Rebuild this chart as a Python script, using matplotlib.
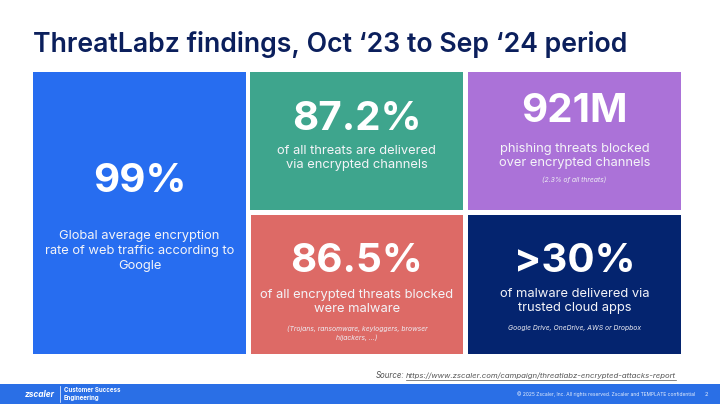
import matplotlib
matplotlib.use("Agg")
import matplotlib.pyplot as plt
from matplotlib.patches import Rectangle

plt.rcParams['font.family'] = ['Inter', 'DejaVu Sans']

title = "ThreatLabz findings, Oct ‘23 to Sep ‘24 period"
headlines = ["99%", "87.2%", "921M", "86.5%", ">30%"]
subtitles = [
    "Global average encryption\nrate of web traffic according to\nGoogle",
    "of all threats are delivered\nvia encrypted channels",
    "phishing threats blocked\nover encrypted channels",
    "of all encrypted threats blocked\nwere malware",
    "of malware delivered via\ntrusted cloud apps",
]
notes = ["", "", "(2.3% of all threats)",
         "(Trojans, ransomware, keyloggers, browser\nhijackers, ...)",
         "Google Drive, OneDrive, AWS or Dropbox"]
colors = ["#276DF0", "#3EA58D", "#AB72D8", "#DD6A66", "#04246F"]
boxes = [(33, 72, 213, 282), (250, 72, 213, 138), (468, 72, 213, 138),
         (251, 215, 212, 139), (468, 215, 213, 139)]
head_y = [182, 119, 112, 262, 262]
sub_y = [251, 158, 156, 302, 301]
note_y = [None, None, 180, 333, 328]

fig = plt.figure(figsize=(7.2, 4.04), dpi=100)
ax = fig.add_axes([0, 0, 1, 1])
ax.set_xlim(0, 720)
ax.set_ylim(404, 0)
ax.axis("off")

ax.text(33, 44, title, fontsize=19.2, fontweight="semibold", color="#0B1F5C", va="center", ha="left")

for (x, y, w, h), c, hd, sb, nt, hy, sy, ny in zip(boxes, colors, headlines, subtitles, notes, head_y, sub_y, note_y):
    ax.add_patch(Rectangle((x, y), w, h, fc=c, ec="none"))
    cx = x + w / 2
    ax.text(cx, hy, hd, fontsize=29, fontweight="bold", color="white", ha="center", va="center")
    ax.text(cx, sy, sb, fontsize=9.3, color="#F4F4F8", ha="center", va="center", linespacing=1.3)
    if nt:
        ax.text(cx, ny, nt, fontsize=4.9, style="italic", color="#EEEEF4", ha="center", va="center", linespacing=1.5)

ax.text(376, 376, "Source:", fontsize=5.7, style="italic", color="#555555", ha="left", va="center")
ax.text(406, 376, "https://www.zscaler.com/campaign/threatlabz-encrypted-attacks-report",
        fontsize=5.6, style="italic", color="#555555", ha="left", va="center")
ax.plot([406, 676], [380, 380], color="#555555", lw=0.5)

ax.add_patch(Rectangle((0, 384), 720, 20, fc="#2A6FE6", ec="none"))
ax.text(25, 394.5, "zscaler", fontsize=6, fontweight="bold", style="italic", color="white", ha="left", va="center")
ax.plot([59.5, 59.5], [386, 402], color="white", lw=0.5)
ax.text(64, 394, "Customer Success\nEngineering", fontsize=4.4, fontweight="bold", color="white", ha="left", va="center", linespacing=1.3)
ax.text(517, 394.5, "© 2025 Zscaler, Inc. All rights reserved. Zscaler and TEMPLATE confidential", fontsize=3.55,
        color="#E6EEFC", ha="left", va="center")
ax.text(706, 394, "2", fontsize=4.2, color="#E6EEFC", ha="center", va="center")

fig.savefig("out.png", dpi=100)
